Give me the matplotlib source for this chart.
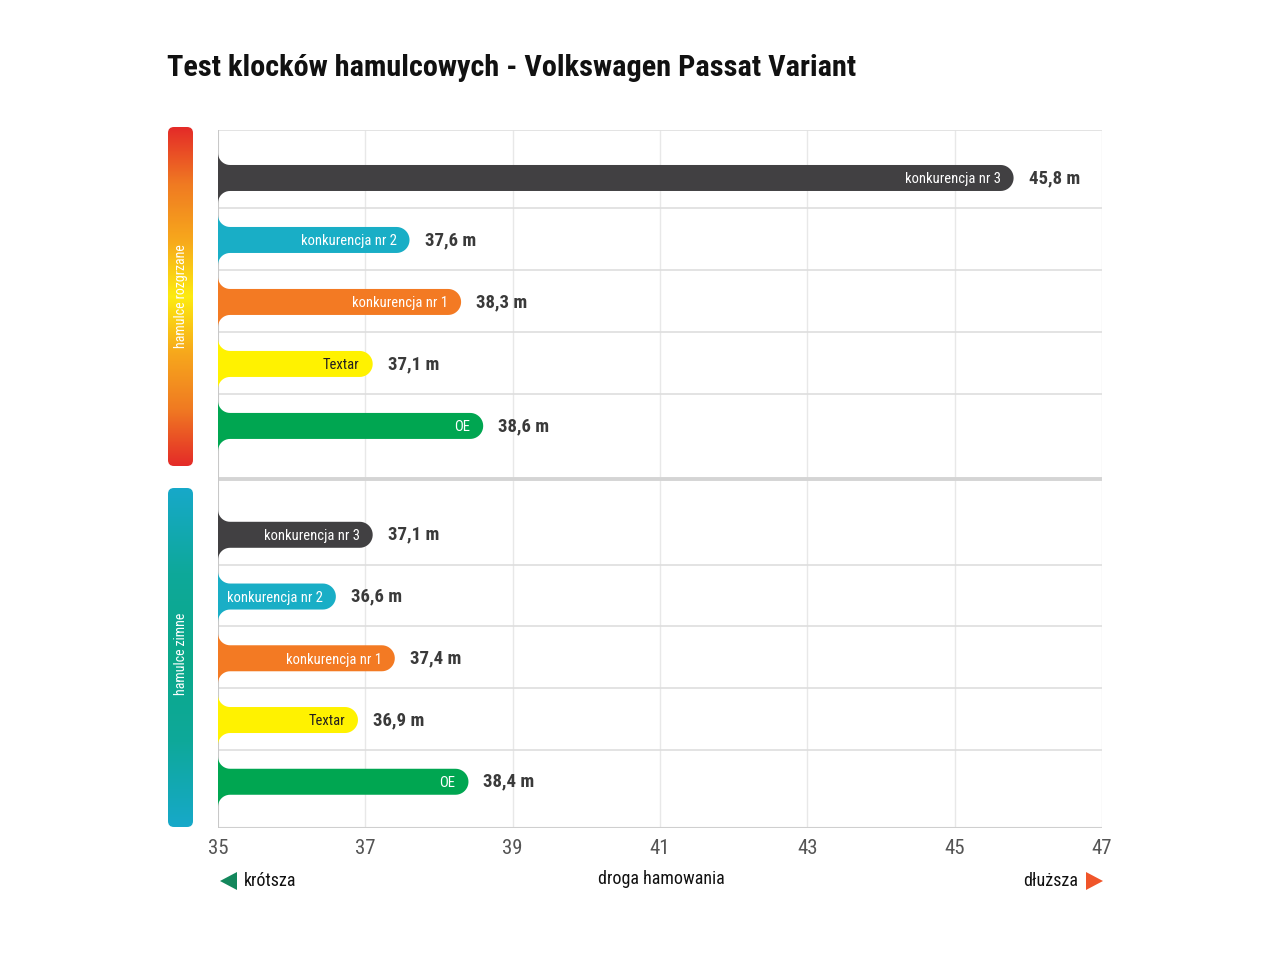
import numpy as np
import matplotlib
matplotlib.use('Agg')
from matplotlib import pyplot as plt
from matplotlib import font_manager
from matplotlib.path import Path
from matplotlib.patches import PathPatch, FancyBboxPatch, Polygon
from matplotlib.colors import LinearSegmentedColormap

# data
brands = ['konkurencja nr 3', 'konkurencja nr 2', 'konkurencja nr 1', 'Textar', 'OE']
hot_brakes = [45.8, 37.6, 38.3, 37.1, 38.6]
cold_brakes = [37.1, 36.6, 37.4, 36.9, 38.4]
group_names = ['hamulce rozgrzane', 'hamulce zimne']
ticks = [35, 37, 39, 41, 43, 45, 47]

bar_colors = ['#414042', '#19aec6', '#f37a23', '#fff200', '#00a651']
label_colors = ['white', 'white', 'white', '#231f20', 'white']

# pick a condensed font if there is one
names = {f.name for f in font_manager.fontManager.ttflist}
FONT = 'DejaVu Sans'
for cand in ['Roboto Condensed', 'Liberation Sans Narrow', 'Open Sans Condensed', 'DejaVu Sans Condensed']:
    if cand in names:
        FONT = cand
        break
plt.rcParams['font.family'] = [FONT, 'DejaVu Sans']

W, H = 1280, 960
fig = plt.figure(figsize=(12.8, 9.6), dpi=100)
fig.patch.set_facecolor('white')

# main axes (pixels 218..1102 x 130..828)
ax = fig.add_axes([218 / W, 1 - 828 / H, (1102 - 218) / W, (828 - 130) / H])
Y_MAX = 11.26
ax.set_xlim(35, 47)
ax.set_ylim(Y_MAX, 0)
for s in ax.spines.values():
    s.set_visible(False)
ax.set_yticks([])
ax.set_xticks(ticks)
ax.set_xticklabels([str(t) for t in ticks], fontsize=15, color='#555555')
ax.tick_params(axis='x', length=0, pad=8)

px_x = (1102 - 218) / 12.0
px_y = (828 - 130) / Y_MAX

# grid
ax.vlines(ticks[1:], 0, Y_MAX, color='#e8e8e8', lw=1, zorder=0)
ax.vlines(35, 0, Y_MAX, color='#c8c8c8', lw=1.5, zorder=1)
ax.hlines(0, 35, 47, color='#dedede', lw=1.2, zorder=0)
ax.hlines(Y_MAX, 35, 47, color='#cfcfcf', lw=1.5, zorder=0)

centers_hot = [0.774 + i for i in range(5)]
centers_cold = [6.53 + i * 0.996 for i in range(5)]
row_lines = [c + 0.48 for c in centers_hot[:4]] + [c + 0.48 for c in centers_cold[:4]]
ax.hlines(row_lines, 35, 47, color='#dedede', lw=1.2, zorder=0)
ax.hlines(5.63, 35, 47, color='#d4d4d4', lw=2.8, zorder=0)


def bar_path(value, yc, h=13, r=12):
    x0 = 35.0
    hy = h / px_y
    yt, yb = yc - hy, yc + hy
    rx, ry = r / px_x, r / px_y
    ex, ey = h / px_x, hy
    pts = []
    # top fillet
    for t in np.linspace(np.pi, np.pi / 2, 12):
        pts.append((x0 + rx + rx * np.cos(t), yt - ry + ry * np.sin(t)))
    # rounded end
    xe = max(value - ex, x0 + rx)
    for t in np.linspace(-np.pi / 2, np.pi / 2, 24):
        pts.append((xe + ex * np.cos(t), yc + ey * np.sin(t)))
    # bottom fillet
    for t in np.linspace(-np.pi / 2, -np.pi, 12):
        pts.append((x0 + rx + rx * np.cos(t), yb + ry + ry * np.sin(t)))
    pts.append(pts[0])
    return Path(pts)


for values, centers in [(hot_brakes, centers_hot), (cold_brakes, centers_cold)]:
    for i, v in enumerate(values):
        patch = PathPatch(bar_path(v, centers[i]), facecolor=bar_colors[i], edgecolor='none', zorder=3)
        ax.add_patch(patch)
        ax.text(v - 13 / px_x, centers[i] + 0.02, brands[i], ha='right', va='center',
                fontsize=10.5, color=label_colors[i], zorder=4)
        ax.text(v + 15 / px_x, centers[i], f'{v:.1f} m'.replace('.', ','), ha='left', va='center',
                fontsize=13.5, fontweight='bold', color='#3a3a3a', zorder=4)

# decoration layer in pixel coordinates
deco = fig.add_axes([0, 0, 1, 1], zorder=-1)
deco.set_xlim(0, W)
deco.set_ylim(H, 0)
deco.axis('off')

deco.text(167, 68, 'Test klocków hamulcowych - Volkswagen Passat Variant', fontsize=21.8,
          fontweight='bold', color='#111111', ha='left', va='center')


def gradient_bar(x0, y0, x1, y1, cols):
    cmap = LinearSegmentedColormap.from_list('g', cols)
    grad = np.linspace(0, 1, 256).reshape(-1, 1)
    im = deco.imshow(grad, cmap=cmap, aspect='auto', extent=(x0, x1, y1, y0), origin='upper')
    clip = FancyBboxPatch((x0, y0), x1 - x0, y1 - y0, boxstyle='round,pad=0,rounding_size=6',
                          facecolor='none', edgecolor='none', transform=deco.transData)
    deco.add_patch(clip)
    im.set_clip_path(clip)


gradient_bar(168, 127, 193, 466, ['#e42b28', '#f07a22', '#f7a81c', '#fdeb10', '#f7a81c', '#f07a22', '#e42b28'])
gradient_bar(168, 488, 193, 827, ['#17a9c9', '#0ea89a', '#0ba98a', '#0ea89a', '#17a9c9'])
deco.set_xlim(0, W)
deco.set_ylim(H, 0)

deco.text(181, 296, group_names[0], rotation=90, ha='center', va='center', fontsize=10, color='white')
deco.text(181, 654, group_names[1], rotation=90, ha='center', va='center', fontsize=10, color='white')

# axis caption and arrows
deco.text(661, 879, 'droga hamowania', ha='center', va='center', fontsize=13, color='#111111')
deco.add_patch(Polygon([(220, 881), (237, 872), (237, 890)], closed=True, facecolor='#13875c', edgecolor='none'))
deco.text(244, 881, 'krótsza', ha='left', va='center', fontsize=13, color='#111111')
deco.add_patch(Polygon([(1103, 881), (1086, 872), (1086, 890)], closed=True, facecolor='#f0552a', edgecolor='none'))
deco.text(1078, 881, 'dłuższa', ha='right', va='center', fontsize=13, color='#111111')

fig.savefig('out.png', dpi=100, facecolor='white')
